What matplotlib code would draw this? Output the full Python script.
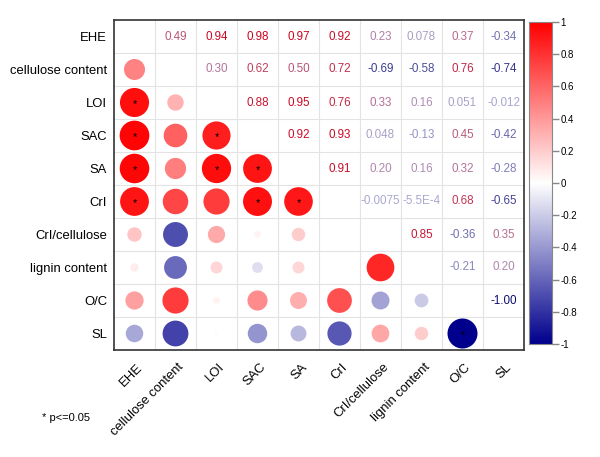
import numpy as np
import matplotlib.pyplot as plt
import matplotlib.transforms as mtrans
from matplotlib.colors import LinearSegmentedColormap
from matplotlib.patches import Ellipse

plt.rcParams['font.family'] = ['Liberation Sans', 'DejaVu Sans']

labels = ["EHE", "cellulose content", "LOI", "SAC", "SA", "CrI",
          "CrI/cellulose", "lignin content", "O/C", "SL"]

# upper triangle, row by row (r[i][j] for j > i)
upper = [
    [0.49, 0.94, 0.98, 0.97, 0.92, 0.23, 0.078, 0.37, -0.34],
    [0.30, 0.62, 0.50, 0.72, -0.69, -0.58, 0.76, -0.74],
    [0.88, 0.95, 0.76, 0.33, 0.16, 0.051, -0.012],
    [0.92, 0.93, 0.048, -0.13, 0.45, -0.42],
    [0.91, 0.20, 0.16, 0.32, -0.28],
    [-0.0075, -5.5e-4, 0.68, -0.65],
    [0.85, -0.36, 0.35],
    [-0.21, 0.20],
    [-1.00],
]
# significant pairs (p<=0.05), as (row, col) in the lower triangle
signif = [(2, 0), (3, 0), (3, 2), (4, 0), (4, 2), (4, 3),
          (5, 0), (5, 3), (5, 4), (9, 8)]

n = len(labels)
r = np.eye(n)
for i, row in enumerate(upper):
    for k, v in enumerate(row):
        r[i, i + 1 + k] = v
        r[i + 1 + k, i] = v

cmap = LinearSegmentedColormap.from_list(
    "bwr2", [(0, (0, 0, 0.55)), (0.5, (1, 1, 1)), (1, (1, 0, 0))])
tcmap = LinearSegmentedColormap.from_list(
    "txt", [(0, (0.05, 0.05, 0.45)), (0.5, (0.66, 0.66, 0.82)), (1, (0.8, 0.0, 0.1))])


def fmt(v):
    if abs(v) >= 0.1:
        return f"{v:.2f}"
    if abs(v) >= 0.001:
        return f"{v:.2g}"
    m, e = f"{v:.1E}".split("E")
    return f"{m}E{int(e)}"


fig = plt.figure(figsize=(6, 4.57), dpi=100)
W, H = 600, 457
ax = fig.add_axes([114 / W, 1 - 350 / H, 410 / W, 330 / H])
ax.set_xlim(0, n)
ax.set_ylim(n, 0)

cw, ch = 41.0, 33.0
for i in range(n):
    for j in range(n):
        v = r[i, j]
        if i > j:
            d = 30.0 * np.sqrt(abs(v))
            ax.add_patch(Ellipse((j + 0.5, i + 0.5), d / cw, d / ch,
                                 color=cmap((v + 1) / 2), lw=0))
        elif i < j:
            ax.text(j + 0.5, i + 0.5, fmt(v), ha='center', va='center',
                    fontsize=8.4, color=tcmap((v + 1) / 2))
for (i, j) in signif:
    ax.text(j + 0.5, i + 0.55, "*", ha='center', va='center', fontsize=8, color='black')

for k in range(1, n):
    ax.axhline(k, color='#e3e3e3', lw=0.8, zorder=0)
    ax.axvline(k, color='#e3e3e3', lw=0.8, zorder=0)

ax.set_xticks(np.arange(n) + 0.5)
ax.set_yticks(np.arange(n) + 0.5)
ax.set_xticklabels(labels, rotation=45, ha='right', va='center',
                   rotation_mode='anchor', fontsize=9.4)
ax.set_yticklabels(labels, fontsize=9.4)
ax.tick_params(axis='y', length=0, pad=5)
ax.tick_params(axis='x', length=0, pad=0)
shift = mtrans.ScaledTranslation(6.5 / 100, -15.5 / 100, fig.dpi_scale_trans)
for lab in ax.get_xticklabels():
    lab.set_transform(lab.get_transform() + shift)
for s in ax.spines.values():
    s.set_color('#333333')
    s.set_linewidth(1.2)

cax = fig.add_axes([529 / W, 1 - 344 / H, 23 / W, 322 / H])
grad = np.linspace(-1, 1, 256).reshape(-1, 1)
cax.imshow(grad, aspect='auto', cmap=cmap, origin='lower', extent=[0, 1, -1, 1], vmin=-1, vmax=1)
cax.set_xticks([])
cax.yaxis.tick_right()
ticks = [-1, -0.8, -0.6, -0.4, -0.2, 0, 0.2, 0.4, 0.6, 0.8, 1]
cax.set_yticks(ticks)
cax.set_yticklabels([f"{t:g}" for t in ticks], fontsize=7)
cax.tick_params(axis='y', length=5, width=1, color='#888888', pad=1)
for s in cax.spines.values():
    s.set_color('#888888')

fig.text(42 / W, 1 - 418 / H, "* p<=0.05", fontsize=8, va='center')

fig.savefig("out.png", dpi=100)
